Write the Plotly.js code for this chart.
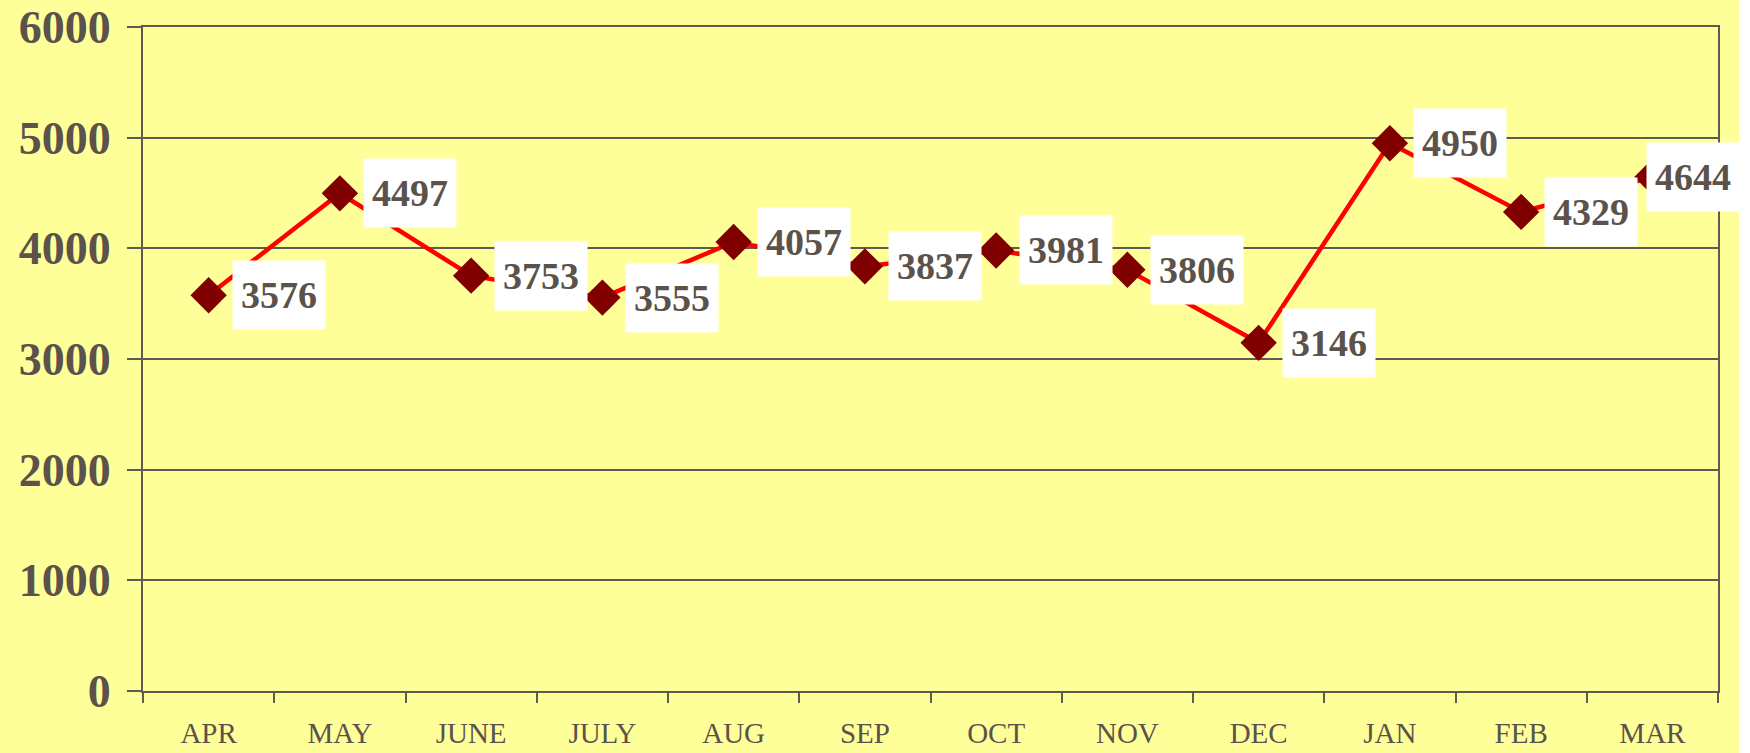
<!DOCTYPE html>
<html>
<head>
<meta charset="utf-8">
<script src="https://cdn.plot.ly/plotly-3.0.1.min.js"></script>
<style>
html,body{margin:0;padding:0;background:#ffffff;}
#chart{width:1739px;height:753px;}
</style>
</head>
<body>
<div id="chart"></div>
<script>
var months = ["APR","MAY","JUNE","JULY","AUG","SEP","OCT","NOV","DEC","JAN","FEB","MAR"];
var values = [3576,4497,3753,3555,4057,3837,3981,3806,3146,4950,4329,4644];
var yTicks = [0,1000,2000,3000,4000,5000,6000];

var textColor = "#5b534b";
var lineColor = "#5f5a52";
var fontFam = "'Liberation Serif','Times New Roman',serif";

var trace = {
  x: months,
  y: values,
  type: "scatter",
  mode: "lines+markers",
  line: {color: "#ff0000", width: 4.5},
  marker: {symbol: "diamond", size: 28, color: "#800000"},
  hoverinfo: "x+y",
  cliponaxis: false
};

var annotations = months.map(function(m, i){
  var last = (i === months.length - 1);
  return {
    x: m, y: values[i], xref: "x", yref: "y",
    text: "<b>" + values[i] + "</b>",
    showarrow: false,
    xanchor: "left", yanchor: "middle",
    xshift: last ? -6 : 23,
    bgcolor: "#ffffff",
    width: 80, height: 56, borderpad: 6,
    font: {family: fontFam, size: 38, color: textColor}
  };
});

var layout = {
  width: 1739, height: 753,
  paper_bgcolor: "#ffff99",
  plot_bgcolor: "#ffff99",
  margin: {l: 143, r: 21, t: 27, b: 62},
  showlegend: false,
  xaxis: {
    type: "category",
    tickson: "boundaries",
    ticks: "outside", ticklen: 10, tickwidth: 2, tickcolor: lineColor,
    showline: true, linecolor: lineColor, linewidth: 2, mirror: true,
    showgrid: false, zeroline: false,
    tickfont: {family: fontFam, size: 29, color: textColor},
    ticklabelstandoff: 15,
    range: [-0.5, 11.5]
  },
  yaxis: {
    range: [0, 6000],
    tickvals: yTicks,
    ticktext: yTicks.map(function(v){return "<b>" + v + "</b>";}),
    ticks: "outside", ticklen: 14, tickwidth: 2, tickcolor: lineColor,
    showline: true, linecolor: lineColor, linewidth: 2, mirror: true,
    showgrid: true, gridcolor: lineColor, gridwidth: 2,
    zeroline: false,
    tickfont: {family: fontFam, size: 46, color: textColor},
    ticklabelstandoff: 7
  },
  annotations: annotations
};

Plotly.newPlot("chart", [trace], layout, {displayModeBar: false, staticPlot: true});
</script>
</body>
</html>
